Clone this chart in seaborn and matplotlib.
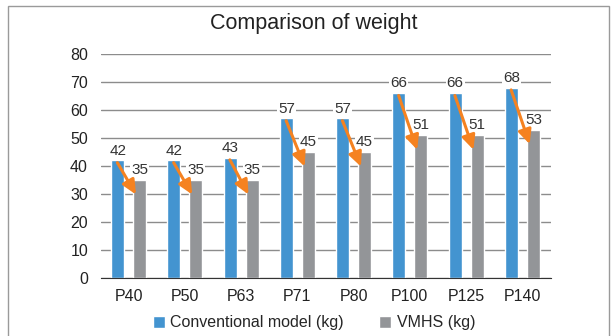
import numpy as np
import pandas as pd
import matplotlib
matplotlib.use('Agg')
import matplotlib.pyplot as plt
import seaborn as sns
from matplotlib.patches import Rectangle

models = ['P40', 'P50', 'P63', 'P71', 'P80', 'P100', 'P125', 'P140']
conventional = [42, 42, 43, 57, 57, 66, 66, 68]
vmhs = [35, 35, 35, 45, 45, 51, 51, 53]
series = ['Conventional model (kg)', 'VMHS (kg)']

df = pd.DataFrame({'model': models * 2,
                   'weight': conventional + vmhs,
                   'series': [series[0]] * len(models) + [series[1]] * len(models)})

sns.set_style('white')
plt.rcParams['font.family'] = ['Liberation Sans', 'DejaVu Sans']

fig = plt.figure(figsize=(6.11, 3.36), dpi=100)
ax = fig.add_axes([100.5 / 611, 0.173, 450 / 611, 0.666])

sns.barplot(data=df, x='model', y='weight', hue='series',
            palette=['#4394d0', '#939598'], saturation=1,
            width=0.78, gap=0.41, ax=ax)

# legend below the chart
handles, labels = ax.get_legend_handles_labels()
ax.get_legend().remove()
fig.legend(handles, labels, loc='center', bbox_to_anchor=(0.514, 0.039), ncol=2,
           frameon=False, fontsize=11.5, handlelength=0.75, handleheight=0.75,
           handletextpad=0.35, columnspacing=2.2)

ax.set_ylim(0, 80)
ax.set_yticks(range(0, 81, 10))
ax.set_xlabel('')
ax.set_ylabel('')
ax.set_axisbelow(True)
ax.yaxis.grid(True, color='#8c8c8c', lw=1)
for s in ['top', 'left', 'right']:
    ax.spines[s].set_visible(False)
ax.spines['bottom'].set_color('#333333')
ax.tick_params(axis='y', length=0, pad=9, labelsize=11.5, labelcolor='#222222')
ax.tick_params(axis='x', length=0, pad=8, labelsize=11.5, labelcolor='#222222')

# value labels with white box over gridlines
for c in ax.containers:
    texts = ax.bar_label(c, padding=2, fontsize=11, color='#333333')
    for t in texts:
        t.set_bbox(dict(facecolor='white', edgecolor='none', pad=0.8))
        t.set_zorder(4)

# orange arrows from conventional to VMHS
for i, (a, b) in enumerate(zip(conventional, vmhs)):
    ax.annotate('', xy=(i + 0.13, b - 5.2), xytext=(i - 0.2, a - 0.8),
                arrowprops=dict(arrowstyle='-|>,head_width=0.4,head_length=0.85',
                                color='#f58220', lw=2.2, shrinkA=0, shrinkB=0),
                zorder=6)

fig.text(0.514, 0.929, 'Comparison of weight', ha='center', va='center',
         fontsize=15.5, color='#222222')

# outer frame
fig.patches.append(Rectangle((8 / 611, -0.1), 601 / 611, 1 - 6 / 336 + 0.1,
                             transform=fig.transFigure, fill=False,
                             edgecolor='#9a9a9a', lw=1))

fig.savefig('out.png', dpi=100)
